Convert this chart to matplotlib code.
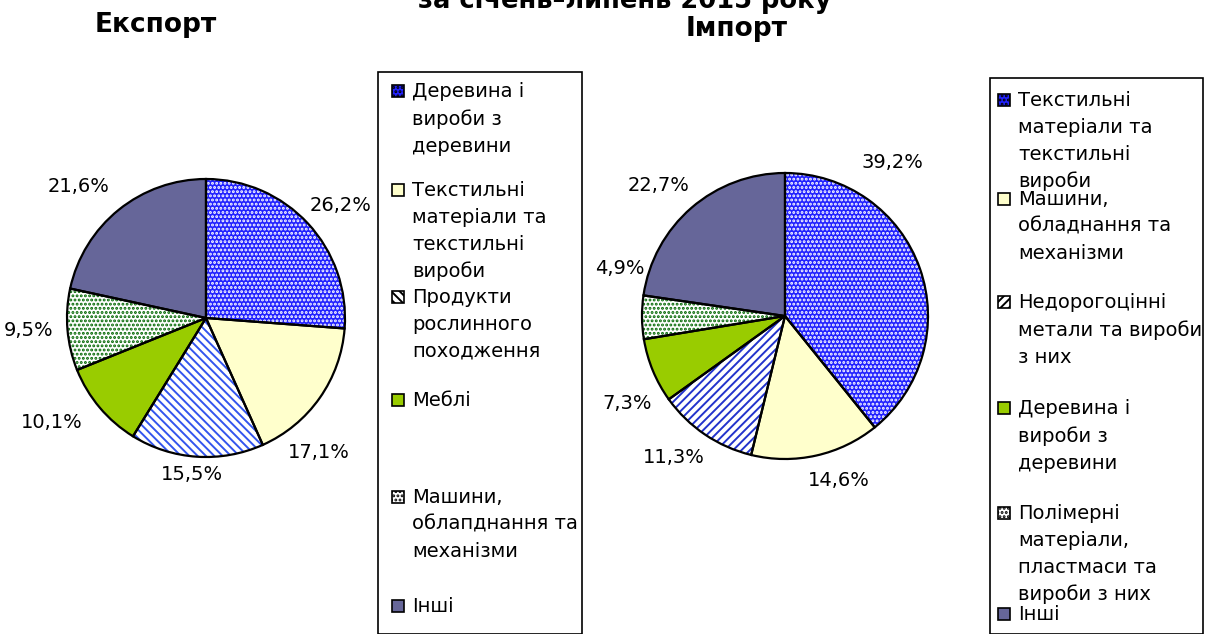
import numpy as np
import matplotlib.pyplot as plt
from matplotlib.patches import Rectangle

plt.rcParams['font.family'] = ['DejaVu Sans']
plt.rcParams['hatch.linewidth'] = 1.4

# data
export_labels = ['Деревина і\nвироби з\nдеревини',
                 'Текстильні\nматеріали та\nтекстильні\nвироби',
                 'Продукти\nрослинного\nпоходження',
                 'Меблі',
                 'Машини,\nоблапднання та\nмеханізми',
                 'Інші']
export_vals = [26.2, 17.1, 15.5, 10.1, 9.5, 21.6]

import_labels = ['Текстильні\nматеріали та\nтекстильні\nвироби',
                 'Машини,\nобладнання та\nмеханізми',
                 'Недорогоцінні\nметали та вироби\nз них',
                 'Деревина і\nвироби з\nдеревини',
                 'Полімерні\nматеріали,\nпластмаси та\nвироби з них',
                 'Інші']
import_vals = [39.2, 14.6, 11.3, 7.3, 4.9, 22.7]

# styles: (face, hatch, hatch colour)
export_styles = [('#2222ff', '....', 'white'),
                 ('#ffffcc', None, '#ffffcc'),
                 ('white', '\\\\\\\\', '#3355ee'),
                 ('#99cc00', None, '#99cc00'),
                 ('white', '....', '#006600'),
                 ('#666699', None, '#666699')]
import_styles = [('#2222ff', '....', 'white'),
                 ('#ffffcc', None, '#ffffcc'),
                 ('white', '////', '#2233cc'),
                 ('#99cc00', None, '#99cc00'),
                 ('white', '....', '#006600'),
                 ('#666699', None, '#666699')]

# label placement (angle in degrees, distance in radii)
export_lpos = [(40, 1.26), (-50, 1.26), (-95, 1.13), (-146, 1.34), (-176, 1.28), (134, 1.32)]
import_lpos = [(55, 1.31), (-72, 1.21), (-128, 1.26), (-151, 1.26), (164, 1.20), (134, 1.27)]

W, H = 1205, 634
fig = plt.figure(figsize=(W / 100, H / 100), dpi=100)


def pct(v):
    return ('%.1f%%' % v).replace('.', ',')


def draw_pie(cx, cy, r, vals, styles, lpos):
    ax = fig.add_axes([(cx - r) / W, (H - cy - r) / H, 2 * r / W, 2 * r / H])
    wedges, _ = ax.pie(vals, startangle=90, counterclock=False,
                       colors=[s[0] for s in styles],
                       hatch=[s[1] for s in styles],
                       wedgeprops=dict(linewidth=0))
    for w, s in zip(wedges, styles):
        w.set_edgecolor(s[2])
    ax.pie(vals, startangle=90, counterclock=False,
           wedgeprops=dict(fill=False, edgecolor='black', linewidth=1.6))
    for v, (a, d) in zip(vals, lpos):
        a = np.deg2rad(a)
        ax.text(d * np.cos(a), d * np.sin(a), pct(v),
                ha='center', va='center', fontsize=14)
    ax.set_xlim(-1, 1)
    ax.set_ylim(-1, 1)
    ax.axis('off')


draw_pie(206, 318, 139, export_vals, export_styles, export_lpos)
draw_pie(785, 316, 143, import_vals, import_styles, import_lpos)


def draw_legend(x0, y0, x1, sx, tops, labels, styles):
    fig.patches.append(Rectangle((x0 / W, 0), (x1 - x0) / W, 1 - y0 / H,
                                 transform=fig.transFigure, fill=False,
                                 edgecolor='black', linewidth=1.2))
    for top, lab, s in zip(tops, labels, styles):
        fig.patches.append(Rectangle((sx / W, 1 - (top + 6) / H), 12 / W, 12 / H,
                                     transform=fig.transFigure,
                                     facecolor=s[0], hatch=s[1],
                                     edgecolor='black', linewidth=1.2))
        fig.text((sx + 20) / W, 1 - (top - 9) / H, lab, ha='left', va='top',
                 fontsize=14, linespacing=1.52)


draw_legend(378, 72, 582, 392, [91, 190, 297, 400, 497, 606],
            export_labels, export_styles)
draw_legend(990, 78, 1203, 998, [100, 199, 302, 408, 513, 614],
            import_labels, import_styles)

fig.text(156 / W, 1 - 25 / H, 'Експорт', ha='center', va='center',
         fontsize=19, fontweight='bold')
fig.text(737 / W, 1 - 29 / H, 'Імпорт', ha='center', va='center',
         fontsize=19, fontweight='bold')
fig.text(625 / W, 1 - 8 / H, 'за січень–липень 2015 року', ha='center',
         va='baseline', fontsize=18.5, fontweight='bold')

fig.savefig('out.png', dpi=100)
